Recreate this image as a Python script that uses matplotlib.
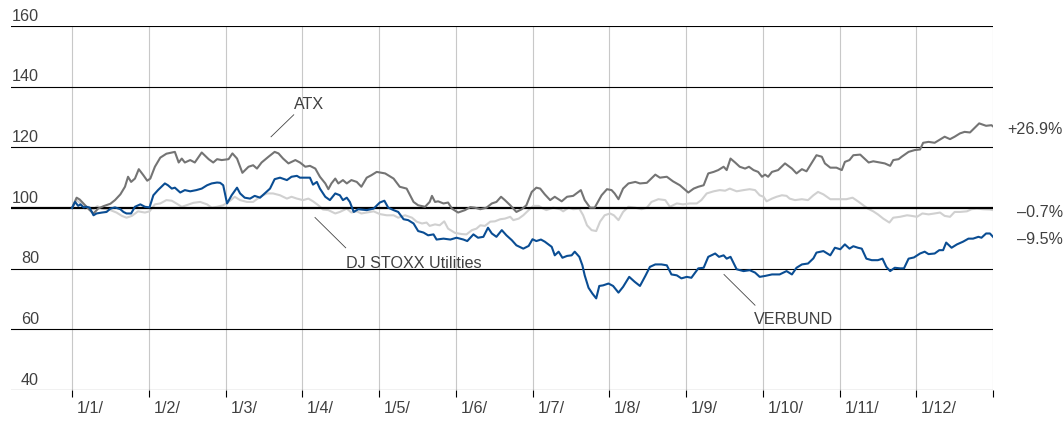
import matplotlib
matplotlib.use("Agg")
import matplotlib.pyplot as plt
import matplotlib.transforms as mtransforms

plt.rcParams.update({"font.family": ["Liberation Sans", "DejaVu Sans"], "font.size": 11.6})

# x positions are in months from 1 January (equal-width months, 0..12)
MONTH_LABELS = ["1/1/", "1/2/", "1/3/", "1/4/", "1/5/", "1/6/",
                "1/7/", "1/8/", "1/9/", "1/10/", "1/11/", "1/12/"]
Y_TICKS = [40, 60, 80, 100, 120, 140, 160]

atx_x = [0.00, 0.06, 0.10, 0.17, 0.23, 0.28, 0.34, 0.41, 0.50, 0.56, 0.63, 0.69, 0.73, 0.77, 0.82,
         0.87, 0.93, 0.98, 1.02, 1.08, 1.15, 1.23, 1.34, 1.39, 1.43, 1.47, 1.54, 1.60, 1.69, 1.78,
         1.84, 1.89, 1.95, 2.04, 2.09, 2.15, 2.22, 2.30, 2.36, 2.41, 2.47, 2.56, 2.64, 2.69, 2.75,
         2.82, 2.91, 2.97, 3.04, 3.10, 3.17, 3.23, 3.30, 3.34, 3.38, 3.43, 3.47, 3.53, 3.58, 3.64,
         3.71, 3.77, 3.84, 3.90, 3.97, 4.04, 4.08, 4.19, 4.27, 4.36, 4.45, 4.51, 4.60, 4.66, 4.69,
         4.73, 4.77, 4.84, 4.90, 4.95, 5.03, 5.12, 5.19, 5.25, 5.32, 5.40, 5.47, 5.53, 5.59, 5.64,
         5.71, 5.79, 5.86, 5.92, 5.99, 6.05, 6.10, 6.16, 6.23, 6.29, 6.38, 6.45, 6.53, 6.63, 6.68,
         6.75, 6.81, 6.90, 6.97, 7.03, 7.07, 7.12, 7.18, 7.25, 7.34, 7.40, 7.49, 7.60, 7.66, 7.75,
         7.83, 7.92, 8.03, 8.10, 8.16, 8.23, 8.29, 8.36, 8.42, 8.49, 8.53, 8.58, 8.64, 8.70, 8.77,
         8.82, 8.88, 8.94, 8.99, 9.03, 9.07, 9.12, 9.20, 9.29, 9.38, 9.44, 9.51, 9.57, 9.70, 9.77,
         9.81, 9.88, 9.96, 10.03, 10.07, 10.13, 10.18, 10.27, 10.38, 10.44, 10.53, 10.59, 10.66,
         10.70, 10.77, 10.81, 10.90, 10.98, 11.05, 11.09, 11.16, 11.24, 11.31, 11.37, 11.44, 11.50,
         11.57, 11.63, 11.70, 11.82, 11.91, 11.98, 12.00]
atx_y = [100.0, 103.4, 102.8, 100.9, 99.3, 98.2, 99.8, 100.6, 101.4, 102.6, 104.5, 107.0, 110.3, 108.6,
         109.7, 112.8, 110.8, 109.0, 109.7, 113.6, 116.6, 117.9, 118.5, 115.0, 116.3, 115.0, 115.8,
         115.0, 118.3, 116.1, 115.0, 116.1, 115.8, 116.1, 118.0, 116.3, 111.6, 113.6, 114.1, 113.0,
         115.0, 116.9, 118.5, 118.0, 116.3, 114.7, 115.8, 115.0, 113.6, 113.9, 113.0, 110.3, 108.1,
         106.2, 108.1, 109.7, 108.1, 109.2, 108.1, 109.2, 108.6, 107.0, 110.0, 110.8, 111.9, 111.6,
         111.4, 109.7, 107.0, 106.4, 102.0, 100.9, 100.4, 102.0, 104.0, 102.0, 102.2, 101.5, 101.8,
         99.8, 98.5, 99.3, 100.3, 100.1, 99.6, 100.1, 101.5, 102.0, 103.7, 102.6, 100.9, 98.7, 99.6,
         100.9, 105.3, 106.7, 106.4, 104.5, 102.6, 103.7, 102.2, 103.7, 104.0, 105.9, 102.6, 100.1,
         100.1, 104.2, 106.2, 105.9, 104.8, 102.9, 106.4, 108.1, 108.6, 108.1, 108.3, 111.0, 110.0,
         110.3, 108.8, 107.5, 105.1, 106.4, 107.0, 107.5, 111.4, 111.9, 112.5, 113.6, 112.5, 116.3,
         115.0, 113.6, 113.0, 113.6, 112.5, 111.9, 110.3, 111.0, 110.3, 111.9, 112.5, 114.7, 113.0,
         111.4, 112.8, 112.1, 117.4, 116.9, 114.7, 113.3, 113.3, 112.5, 115.2, 115.8, 117.4, 117.6,
         115.0, 115.4, 115.0, 114.7, 113.9, 115.8, 116.1, 116.9, 118.5, 119.1, 119.3, 121.5, 121.8,
         121.5, 122.6, 123.5, 122.7, 123.5, 124.6, 125.1, 124.9, 127.9, 127.1, 127.3, 126.9]

verbund_x = [0.00, 0.04, 0.08, 0.11, 0.15, 0.19, 0.23, 0.28, 0.32, 0.39, 0.45, 0.50, 0.56, 0.63, 0.67,
             0.71, 0.77, 0.82, 0.89, 0.95, 1.01, 1.06, 1.12, 1.21, 1.25, 1.30, 1.34, 1.41, 1.47, 1.54,
             1.62, 1.69, 1.76, 1.82, 1.89, 1.93, 1.97, 2.02, 2.08, 2.15, 2.19, 2.25, 2.32, 2.38, 2.45,
             2.51, 2.58, 2.64, 2.71, 2.80, 2.86, 2.93, 2.97, 3.04, 3.10, 3.14, 3.19, 3.23, 3.30, 3.36,
             3.43, 3.49, 3.53, 3.58, 3.62, 3.67, 3.73, 3.84, 3.93, 4.01, 4.07, 4.12, 4.19, 4.25, 4.32,
             4.38, 4.45, 4.51, 4.58, 4.64, 4.71, 4.75, 4.84, 4.93, 5.01, 5.10, 5.15, 5.23, 5.29, 5.36,
             5.42, 5.47, 5.53, 5.60, 5.66, 5.73, 5.79, 5.88, 5.95, 6.00, 6.05, 6.11, 6.16, 6.25, 6.29,
             6.34, 6.39, 6.45, 6.51, 6.55, 6.61, 6.65, 6.68, 6.73, 6.78, 6.83, 6.87, 6.92, 6.99, 7.05,
             7.12, 7.18, 7.26, 7.33, 7.40, 7.47, 7.53, 7.60, 7.68, 7.75, 7.81, 7.88, 7.94, 8.01, 8.07,
             8.16, 8.23, 8.29, 8.38, 8.43, 8.49, 8.53, 8.58, 8.66, 8.75, 8.83, 8.90, 8.96, 9.03, 9.12,
             9.22, 9.31, 9.38, 9.44, 9.51, 9.59, 9.66, 9.70, 9.79, 9.88, 9.94, 10.01, 10.07, 10.13,
             10.18, 10.24, 10.29, 10.35, 10.42, 10.50, 10.56, 10.61, 10.66, 10.72, 10.79, 10.84, 10.90,
             10.97, 11.05, 11.11, 11.16, 11.24, 11.30, 11.35, 11.39, 11.46, 11.53, 11.61, 11.68, 11.74,
             11.81, 11.85, 11.91, 11.96, 12.00]
verbund_y = [100.0, 102.0, 100.7, 101.2, 100.2, 100.4, 100.1, 97.6, 98.2, 98.5, 98.7, 99.8, 100.2, 99.6,
             98.7, 98.2, 98.2, 100.4, 101.2, 100.4, 100.2, 104.2, 105.9, 108.1, 107.5, 106.4, 106.7,
             105.1, 105.9, 105.5, 105.9, 106.4, 107.5, 108.1, 108.4, 108.3, 107.5, 101.5, 104.2, 106.7,
             104.8, 103.4, 103.1, 104.0, 103.4, 104.8, 106.4, 109.5, 110.0, 109.2, 110.3, 110.6, 110.0,
             110.0, 110.0, 107.7, 108.6, 106.4, 103.7, 102.6, 104.8, 104.2, 102.6, 103.4, 102.0, 98.7,
             99.6, 99.3, 99.8, 101.8, 102.4, 100.1, 99.3, 98.7, 96.3, 96.0, 94.9, 92.4, 91.9, 91.0, 91.3,
             89.6, 89.9, 89.6, 90.2, 89.6, 89.1, 91.3, 90.2, 90.5, 93.5, 91.6, 90.5, 92.7, 91.0, 89.4,
             87.7, 86.6, 87.5, 89.7, 89.1, 89.6, 88.9, 87.2, 84.4, 85.6, 83.6, 84.2, 84.4, 85.6, 83.9,
             81.1, 77.8, 73.7, 71.8, 70.2, 74.3, 74.5, 75.1, 74.3, 72.1, 74.0, 77.3, 75.7, 74.3, 77.6,
             80.6, 81.4, 81.4, 81.1, 78.1, 77.8, 76.8, 77.3, 77.0, 80.1, 80.3, 83.9, 85.0, 83.9, 84.4,
             83.3, 83.9, 79.8, 79.2, 79.5, 78.7, 77.3, 77.6, 78.1, 78.1, 79.2, 78.1, 80.3, 81.4, 81.7,
             83.4, 85.3, 85.8, 84.4, 86.9, 86.4, 88.0, 86.6, 87.4, 86.9, 86.6, 83.3, 82.8, 82.8, 83.3,
             80.6, 79.2, 80.3, 80.1, 80.1, 83.3, 83.7, 85.0, 85.6, 84.8, 85.0, 86.1, 86.1, 88.6, 86.9,
             88.0, 88.9, 89.9, 89.9, 90.5, 90.2, 91.6, 91.6, 90.5]

stoxx_x = [0.00, 0.06, 0.11, 0.17, 0.21, 0.28, 0.33, 0.39, 0.50, 0.58, 0.65, 0.71, 0.78, 0.86, 0.95,
           1.01, 1.08, 1.15, 1.23, 1.30, 1.36, 1.43, 1.49, 1.58, 1.67, 1.76, 1.82, 1.89, 1.97, 2.06,
           2.12, 2.19, 2.28, 2.36, 2.45, 2.54, 2.62, 2.71, 2.80, 2.86, 2.93, 3.01, 3.08, 3.14, 3.21,
           3.27, 3.34, 3.43, 3.49, 3.58, 3.64, 3.71, 3.77, 3.84, 3.93, 4.01, 4.10, 4.19, 4.25, 4.34,
           4.43, 4.49, 4.56, 4.62, 4.66, 4.73, 4.79, 4.85, 4.90, 4.99, 5.08, 5.14, 5.21, 5.27, 5.32,
           5.38, 5.45, 5.51, 5.58, 5.64, 5.71, 5.75, 5.82, 5.88, 5.95, 6.01, 6.08, 6.14, 6.18, 6.27,
           6.36, 6.40, 6.47, 6.53, 6.61, 6.66, 6.71, 6.77, 6.83, 6.88, 6.94, 7.01, 7.06, 7.12, 7.18,
           7.25, 7.34, 7.42, 7.49, 7.55, 7.64, 7.73, 7.79, 7.88, 7.96, 8.05, 8.14, 8.20, 8.27, 8.36,
           8.44, 8.51, 8.57, 8.66, 8.75, 8.83, 8.90, 8.96, 9.01, 9.05, 9.12, 9.18, 9.25, 9.31, 9.35,
           9.42, 9.51, 9.59, 9.66, 9.72, 9.79, 9.88, 9.96, 10.05, 10.09, 10.17, 10.24, 10.31, 10.37,
           10.44, 10.50, 10.57, 10.65, 10.70, 10.79, 10.88, 10.94, 11.01, 11.08, 11.16, 11.24, 11.31,
           11.37, 11.44, 11.50, 11.57, 11.66, 11.72, 11.79, 11.87, 11.96, 12.00]
stoxx_y = [100.0, 102.6, 101.5, 99.8, 100.4, 99.6, 100.6, 99.8, 99.3, 98.5, 97.4, 96.8, 97.4, 98.9, 98.5,
           98.9, 101.2, 101.5, 102.6, 102.4, 101.5, 100.4, 100.9, 101.7, 102.0, 101.2, 100.1, 100.4,
           100.9, 102.4, 103.7, 102.6, 102.0, 102.0, 103.7, 104.8, 104.8, 104.2, 103.1, 103.7, 103.1,
           102.6, 103.1, 102.2, 100.9, 99.5, 99.3, 98.2, 98.7, 99.8, 98.5, 98.9, 98.2, 98.5, 98.9,
           98.0, 97.6, 97.6, 96.8, 97.6, 96.8, 95.5, 94.9, 95.2, 94.1, 94.6, 94.3, 95.6, 93.2, 91.8,
           91.4, 91.3, 92.7, 93.2, 94.3, 94.1, 95.5, 95.6, 96.3, 96.5, 97.1, 96.0, 96.5, 97.6, 99.3,
           100.7, 100.7, 99.8, 99.3, 100.1, 99.6, 98.9, 100.1, 99.6, 99.8, 97.6, 94.3, 92.7, 92.4,
           95.5, 97.6, 98.2, 97.6, 96.0, 98.7, 100.4, 100.1, 99.6, 100.1, 102.0, 102.9, 102.6, 100.4,
           101.5, 101.2, 101.5, 101.5, 102.6, 104.8, 105.5, 105.9, 105.7, 106.4, 105.5, 105.9, 106.2,
           105.9, 104.2, 103.7, 102.2, 103.1, 103.7, 104.2, 104.0, 103.1, 102.6, 102.9, 102.6, 104.2,
           105.3, 104.5, 102.9, 102.9, 102.9, 102.9, 103.4, 102.2, 100.9, 99.8, 98.9, 97.9, 96.5,
           95.2, 96.8, 97.1, 97.6, 97.4, 97.1, 98.2, 97.9, 98.2, 98.5, 97.4, 97.1, 98.7, 98.7, 98.9,
           99.6, 99.8, 99.6, 99.5, 99.3]

END_LABELS = ["+26.9%", "\u20130.7%", "\u20139.5%"]

TXT = "#404040"
C_ATX = "#747474"
C_STOXX = "#d0d0d0"
C_VERB = "#0a4d93"

fig = plt.figure(figsize=(10.64, 4.27), dpi=100)
ax = fig.add_axes([11 / 1064, 1 - 391 / 427, 982 / 1064, 364 / 427])
ax.set_xlim(-0.795, 12)
ax.set_ylim(40, 160)
for s in ax.spines.values():
    s.set_visible(False)

# grid
for m in range(13):
    ax.plot([m, m], [40, 160], color="#c8c8c8", lw=0.8, zorder=1)
for v in Y_TICKS:
    ax.axhline(v, color="black", lw=1.6 if v == 100 else 0.8, zorder=3 if v == 100 else 1)

yt = mtransforms.blended_transform_factory(ax.transAxes, ax.transData)
for v in Y_TICKS:
    ax.annotate(str(v), xy=(28 / 982, v), xycoords=yt, xytext=(0, 2.5),
                textcoords="offset points", ha="right", va="bottom", color=TXT)

# x ticks + labels
ax.set_xticks(range(13))
ax.set_xticklabels([])
ax.tick_params(axis="x", length=5, width=0.8, color="black", pad=0)
ax.set_yticks([])
for i, lbl in enumerate(MONTH_LABELS):
    ax.annotate(lbl, xy=(i, 40), xytext=(3.5, -7), textcoords="offset points",
                ha="left", va="top", color=TXT, annotation_clip=False)

# series
ax.plot(stoxx_x, stoxx_y, color=C_STOXX, lw=1.5, zorder=2)
ax.plot(atx_x, atx_y, color=C_ATX, lw=1.5, zorder=4)
ax.plot(verbund_x, verbund_y, color=C_VERB, lw=1.5, zorder=5)

# end labels
ax.annotate(END_LABELS[0], xy=(12, atx_y[-1]), xytext=(10, -1.5), textcoords="offset points",
            ha="left", va="center", color=TXT, annotation_clip=False)
ax.annotate(END_LABELS[1], xy=(12, stoxx_y[-1]), xytext=(17, -1.2), textcoords="offset points",
            ha="left", va="center", color=TXT, annotation_clip=False)
ax.annotate(END_LABELS[2], xy=(12, verbund_y[-1]), xytext=(17, -1.2), textcoords="offset points",
            ha="left", va="center", color=TXT, annotation_clip=False)

# series name callouts
ax.plot([2.593, 2.889], [123.47, 130.73], color="#444444", lw=0.6, zorder=6)
ax.text(2.893, 134.35, "ATX", ha="left", va="center", color=TXT)
ax.plot([3.166, 3.566], [96.87, 86.88], color="#444444", lw=0.6, zorder=6)
ax.text(3.570, 82.03, "DJ STOXX Utilities", ha="left", va="center", color=TXT)
ax.plot([8.495, 8.899], [78.08, 67.95], color="#444444", lw=0.6, zorder=6)
ax.text(8.890, 63.57, "VERBUND", ha="left", va="center", color=TXT)

fig.savefig("out.png", dpi=100)
